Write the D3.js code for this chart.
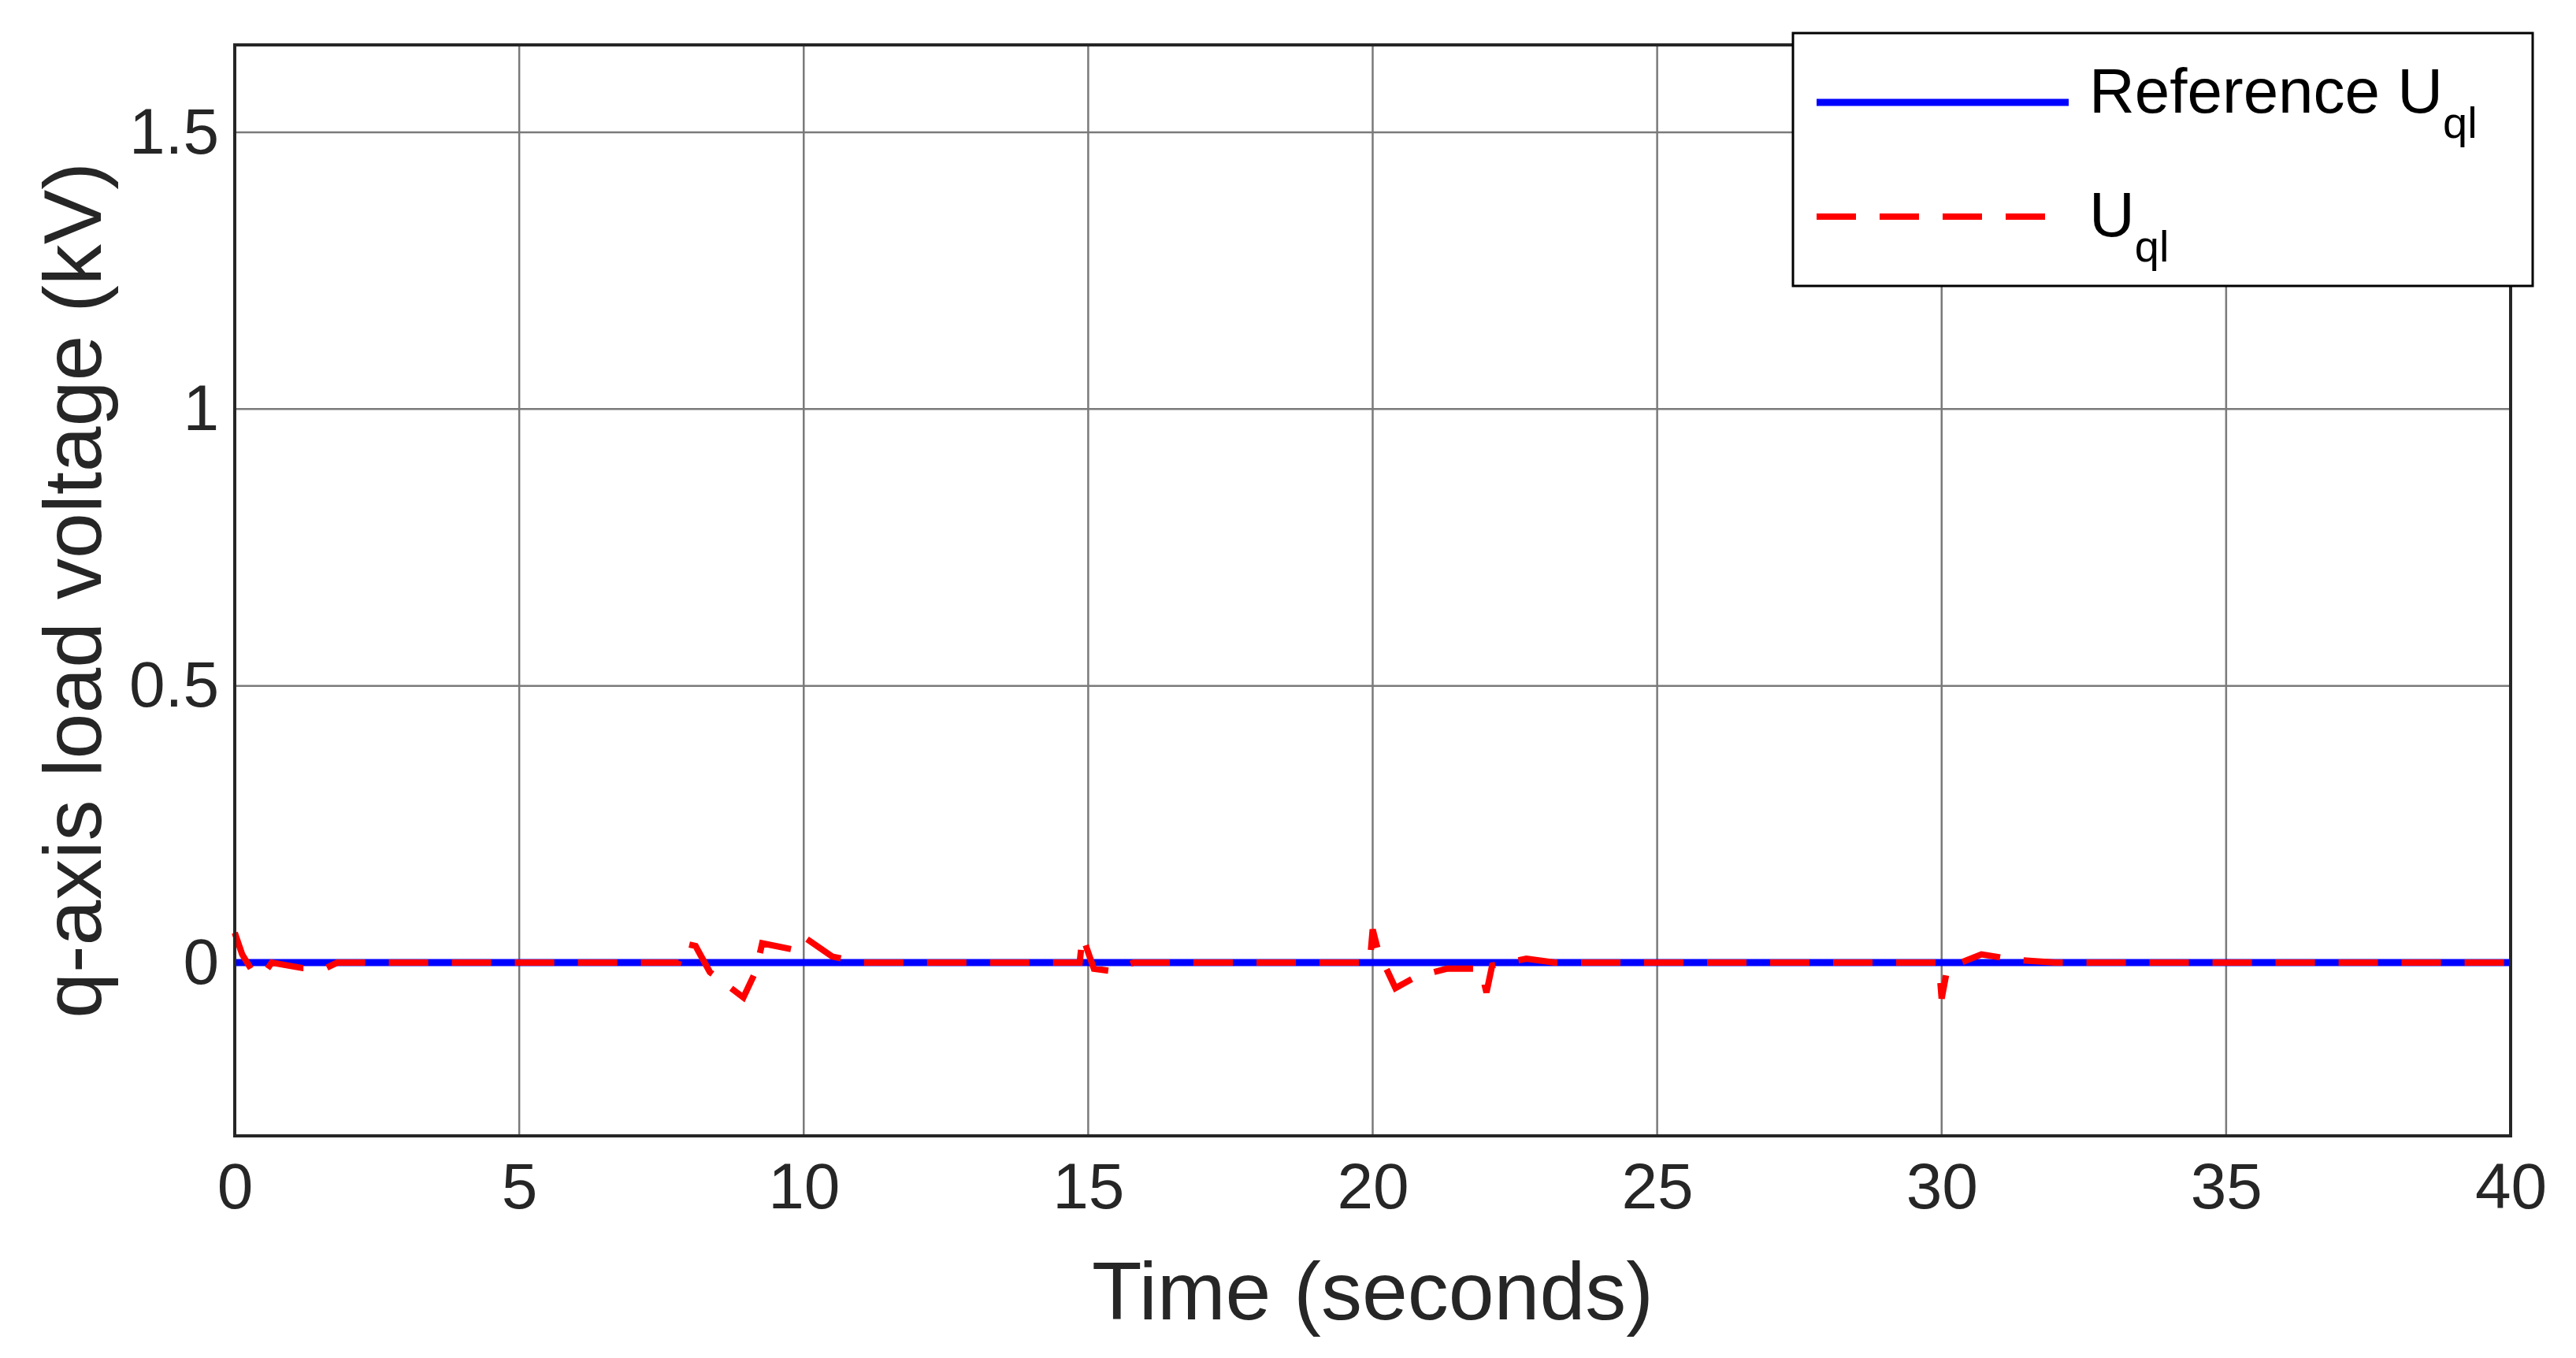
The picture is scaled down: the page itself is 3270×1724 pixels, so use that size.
<!DOCTYPE html>
<html><head><meta charset="utf-8">
<script src="https://cdn.jsdelivr.net/npm/d3@7"></script>
<style>body{margin:0;background:#fff}</style>
</head><body><div id="chart"></div>
<script>
const xTicks = [0, 5, 10, 15, 20, 25, 30, 35, 40];
const yTicks = [0, 0.5, 1, 1.5];
const refTime = [0, 40];
const refValue = [0, 0];
const uqTime = [0, 0.13, 0.35, 0.5, 0.65, 1.2, 1.6, 1.8, 7.8, 7.9, 8.1, 8.35, 8.94, 9.16, 9.27, 9.8, 9.98, 10.5, 11, 14.85, 14.9, 15.1, 15.4, 15.8,
  19.95, 20.0, 20.1, 20.4, 20.75, 21.3, 21.9, 22.0, 22.1, 22.7, 23.2, 29.95, 30.0, 30.1, 30.7, 31.3, 32, 40];
const uqValue = [0.054, 0.015, -0.022, -0.022, 0, -0.01, -0.01, 0, 0, 0.035, 0.03, -0.017, -0.063, -0.015, 0.035, 0.024, 0.048, 0.011, 0, 0, 0.048, -0.011, -0.015, 0,
  0, 0.06, 0.02, -0.046, -0.026, -0.011, -0.011, -0.054, -0.005, 0.007, 0, 0, -0.065, -0.01, 0.015, 0.005, 0, 0];

const W = 3270, H = 1724;
const m = {l: 298, r: 83, t: 57, b: 282};
const svg = d3.select("#chart").append("svg").attr("width", W).attr("height", H);
const x = d3.scaleLinear().domain([0, 40]).range([m.l, W - m.r]);
const y = d3.scaleLinear().domain([-0.313, 1.658]).range([H - m.b, m.t]);
const font = "Liberation Sans, Arial, sans-serif";

// grid
svg.append("g").selectAll("line").data(xTicks.slice(1, -1)).join("line")
  .attr("x1", d => x(d)).attr("x2", d => x(d)).attr("y1", m.t).attr("y2", H - m.b)
  .attr("stroke", "#7a7a7a").attr("stroke-width", 2.5);
svg.append("g").selectAll("line").data(yTicks).join("line")
  .attr("x1", m.l).attr("x2", W - m.r).attr("y1", d => y(d)).attr("y2", d => y(d))
  .attr("stroke", "#7a7a7a").attr("stroke-width", 2.5);

// lines
const line = d3.line().x(d => x(d[0])).y(d => y(d[1]));
svg.append("path").datum(d3.zip(refTime, refValue)).attr("d", line)
  .attr("fill", "none").attr("stroke", "#0000ff").attr("stroke-width", 9);
svg.append("path").datum(d3.zip(uqTime, uqValue)).attr("d", line)
  .attr("fill", "none").attr("stroke", "#ff0000").attr("stroke-width", 8)
  .attr("stroke-dasharray", "50,30");

// axes
const ax = svg.append("g").attr("transform", `translate(0,${H - m.b})`)
  .call(d3.axisBottom(x).tickValues(xTicks).tickSize(0).tickPadding(34).tickFormat(d3.format("~g")));
const ay = svg.append("g").attr("transform", `translate(${m.l},0)`)
  .call(d3.axisLeft(y).tickValues(yTicks).tickSize(0).tickPadding(20).tickFormat(d3.format("~g")));
[ax, ay].forEach(a => {
  a.select(".domain").remove();
  a.selectAll("text").attr("font-family", font).attr("font-size", 82).attr("fill", "#262626");
});
svg.append("rect").attr("x", m.l).attr("y", m.t).attr("width", W - m.r - m.l).attr("height", H - m.b - m.t)
  .attr("fill", "none").attr("stroke", "#262626").attr("stroke-width", 4);

// titles
svg.append("text").attr("x", (m.l + W - m.r) / 2).attr("y", 1675).attr("text-anchor", "middle")
  .attr("font-family", font).attr("font-size", 104).attr("fill", "#262626").text("Time (seconds)");
svg.append("text").attr("transform", `translate(128,${(m.t + H - m.b) / 2}) rotate(-90)`)
  .attr("text-anchor", "middle").attr("font-family", font).attr("font-size", 104).attr("fill", "#262626")
  .text("q-axis load voltage (kV)");

// legend
const lg = svg.append("g");
lg.append("rect").attr("x", 2276).attr("y", 42).attr("width", 939).attr("height", 321)
  .attr("fill", "#fff").attr("stroke", "#000").attr("stroke-width", 3);
lg.append("line").attr("x1", 2306).attr("x2", 2626).attr("y1", 130).attr("y2", 130)
  .attr("stroke", "#0000ff").attr("stroke-width", 9);
lg.append("line").attr("x1", 2306).attr("x2", 2600).attr("y1", 275).attr("y2", 275)
  .attr("stroke", "#ff0000").attr("stroke-width", 8).attr("stroke-dasharray", "50,30");
const t1 = lg.append("text").attr("x", 2652).attr("y", 143).attr("font-family", font)
  .attr("font-size", 80).attr("fill", "#000");
t1.append("tspan").text("Reference U");
t1.append("tspan").attr("dy", 32).attr("font-size", 56).text("ql");
const t2 = lg.append("text").attr("x", 2652).attr("y", 300).attr("font-family", font)
  .attr("font-size", 80).attr("fill", "#000");
t2.append("tspan").text("U");
t2.append("tspan").attr("dy", 32).attr("font-size", 56).text("ql");
</script></body></html>
